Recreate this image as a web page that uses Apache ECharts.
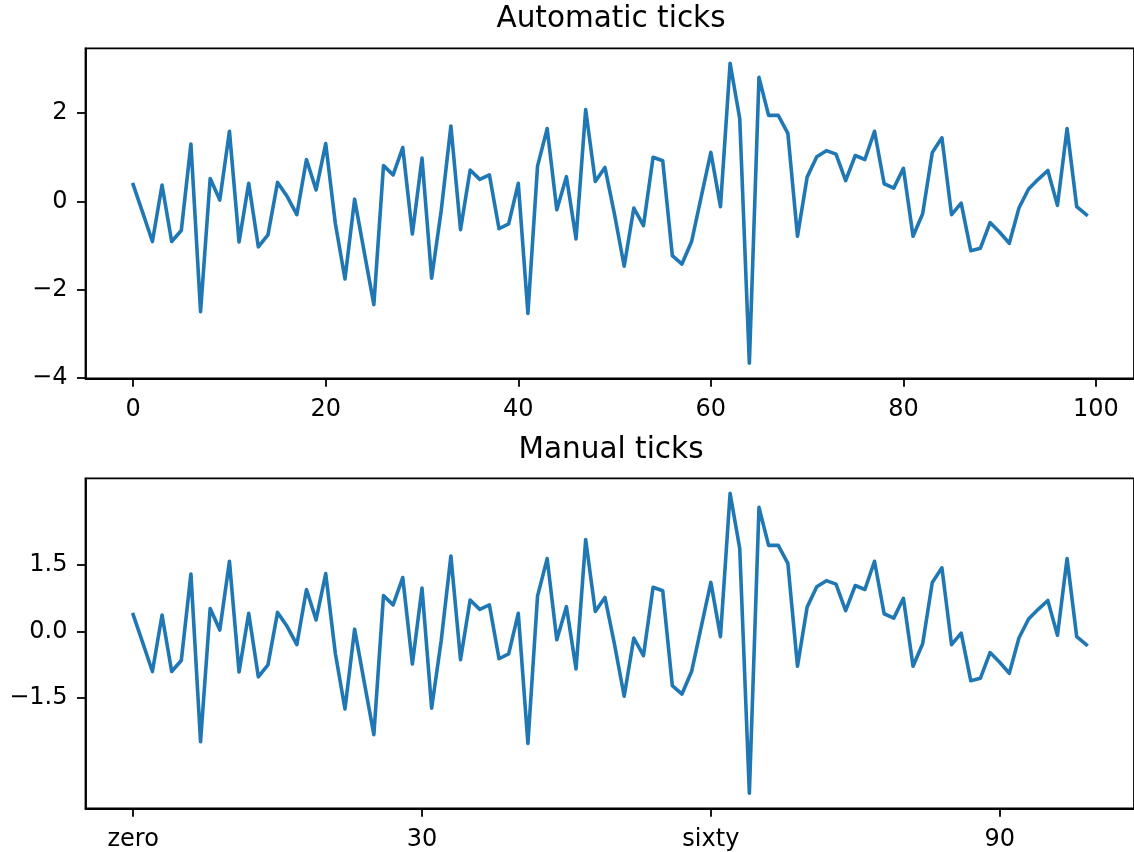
<!DOCTYPE html>
<html>
<head>
<meta charset="utf-8">
<title>Automatic and manual ticks</title>
<script src="https://cdn.jsdelivr.net/npm/echarts@6/dist/echarts.min.js"></script>
<style>
  html, body { margin: 0; padding: 0; background: #fff; }
  #chart { width: 1134px; height: 852px; }
</style>
</head>
<body>
<div id="chart"></div>
<script>
// One random walk-like sample of 100 points, drawn twice.
const values = [
  0.38, -0.26, -0.91, 0.37, -0.91, -0.66, 1.30, -2.50, 0.52, 0.03,
  1.59, -0.92, 0.41, -1.03, -0.76, 0.43, 0.11, -0.30, 0.95, 0.26,
  1.31, -0.50, -1.76, 0.05, -1.15, -2.34, 0.81, 0.60, 1.22, -0.74,
  0.98, -1.74, -0.20, 1.71, -0.64, 0.71, 0.50, 0.60, -0.62, -0.51,
  0.41, -2.54, 0.80, 1.65, -0.19, 0.56, -0.85, 2.08, 0.45, 0.77,
  -0.30, -1.47, -0.15, -0.55, 1.00, 0.92, -1.23, -1.42, -0.91, 0.10,
  1.11, -0.12, 3.13, 1.88, -3.67, 2.81, 1.95, 1.95, 1.54, -0.79,
  0.55, 1.01, 1.15, 1.07, 0.47, 1.04, 0.95, 1.59, 0.40, 0.30,
  0.75, -0.79, -0.28, 1.11, 1.44, -0.30, -0.04, -1.12, -1.06, -0.48,
  -0.70, -0.95, -0.15, 0.28, 0.50, 0.70, -0.09, 1.65, -0.12, -0.30
];

// Tick positions and labels
const autoXTicks = [0, 20, 40, 60, 80, 100];
const autoYTicks = [-4, -2, 0, 2];
const manualXTicks = [0, 30, 60, 90];
const manualXLabels = ['zero', '30', 'sixty', '90'];
const manualYTicks = [-1.5, 0, 1.5];
const manualYLabels = ['\u22121.5', '0.0', '1.5'];

const titles = ['Automatic ticks', 'Manual ticks'];

// Axis limits with a 5% margin around the data
const n = values.length;
const xMin = -0.05 * (n - 1), xMax = (n - 1) * 1.05;
const vMin = Math.min(...values), vMax = Math.max(...values);
const yPad = 0.05 * (vMax - vMin);
const yMin = vMin - yPad, yMax = vMax + yPad;

const points = values.map((v, i) => [i, v]);

const FONT = 'DejaVu Sans';
const BLUE = '#1f77b4';

const minus = v => (v < 0 ? '\u2212' + Math.abs(v) : String(v));

const tickStyle = { show: true, inside: false, length: 8.5, lineStyle: { color: '#000', width: 1.8 } };
const labelBase = { color: '#000', fontFamily: FONT, fontSize: 24 };

function xAxis(gridIndex, ticks, fmt) {
  return {
    type: 'value', gridIndex, min: xMin, max: xMax, position: 'bottom',
    axisLine: { show: true, onZero: false, lineStyle: { color: '#000', width: 1.8 } },
    splitLine: { show: false },
    axisTick: Object.assign({ customValues: ticks }, tickStyle),
    axisLabel: Object.assign({ customValues: ticks, margin: 19, formatter: fmt }, labelBase)
  };
}
function yAxis(gridIndex, ticks, fmt) {
  return {
    type: 'value', gridIndex, min: yMin, max: yMax, position: 'left',
    axisLine: { show: true, onZero: false, lineStyle: { color: '#000', width: 1.8 } },
    splitLine: { show: false },
    axisTick: Object.assign({ customValues: ticks }, tickStyle),
    axisLabel: Object.assign({ customValues: ticks, margin: 18, formatter: fmt }, labelBase)
  };
}

const gridBox = { show: true, borderColor: '#000', borderWidth: 1.8, backgroundColor: 'transparent',
                  left: 85.5, width: 1052, height: 330 };

const lineSeries = idx => ({
  type: 'line', xAxisIndex: idx, yAxisIndex: idx, data: points,
  showSymbol: false, symbol: 'none', silent: true,
  lineStyle: { color: BLUE, width: 3.6, join: 'round', cap: 'square' }
});

const titleText = (text, y) => ({
  type: 'text', x: 611, y,
  style: { text, fill: '#000', fontFamily: FONT, fontSize: 29.5,
           align: 'center', verticalAlign: 'middle',
           textAlign: 'center', textVerticalAlign: 'middle' }
});

const chart = echarts.init(document.getElementById('chart'), null, { renderer: 'canvas' });
chart.setOption({
  animation: false,
  backgroundColor: '#fff',
  grid: [
    Object.assign({ top: 48.3 }, gridBox),
    Object.assign({ top: 478.3 }, gridBox)
  ],
  xAxis: [
    xAxis(0, autoXTicks, v => String(v)),
    xAxis(1, manualXTicks, v => manualXLabels[manualXTicks.indexOf(v)] ?? '')
  ],
  yAxis: [
    yAxis(0, autoYTicks, minus),
    yAxis(1, manualYTicks, v => manualYLabels[manualYTicks.indexOf(v)] ?? '')
  ],
  series: [lineSeries(0), lineSeries(1)],
  graphic: [titleText(titles[0], 19.5), titleText(titles[1], 450)]
});
</script>
</body>
</html>
